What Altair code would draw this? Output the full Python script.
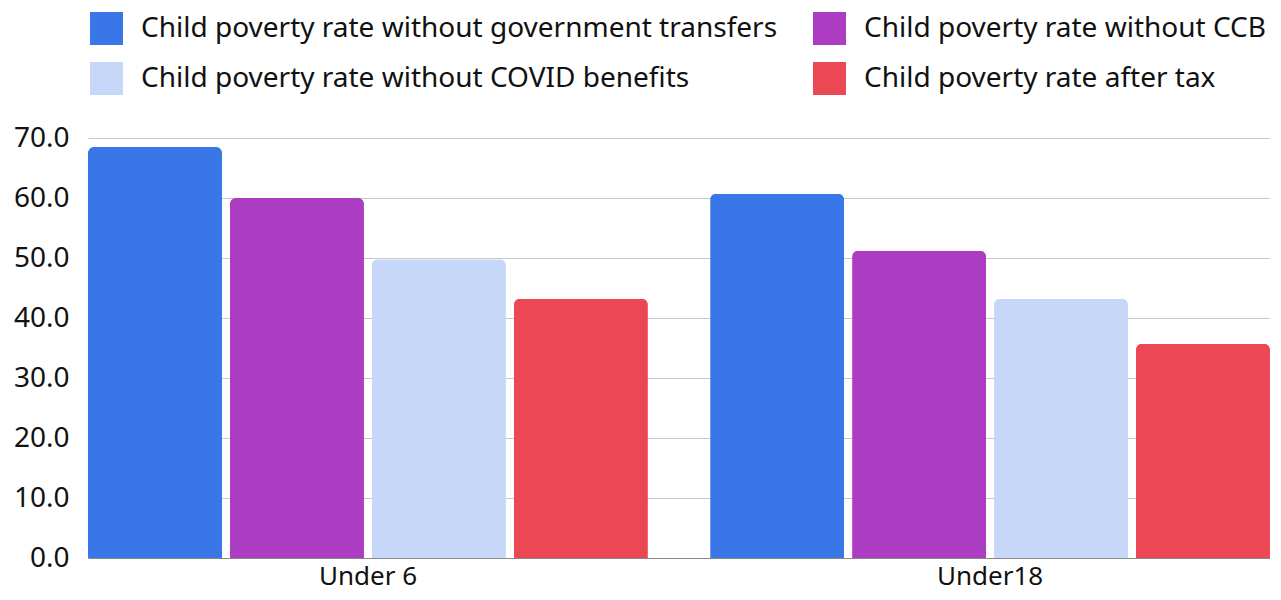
import altair as alt
import pandas as pd

groups = ["Under 6", "Under18"]
series = [
    "Child poverty rate without government transfers",
    "Child poverty rate without CCB",
    "Child poverty rate without COVID benefits",
    "Child poverty rate after tax",
]
colors = ["#3977E9", "#AC3CC1", "#C6D7F8", "#EC4755"]
under6 = [68.5, 60.0, 49.8, 43.2]
under18 = [60.7, 51.2, 43.2, 35.7]

# legend is laid out column by column: order entries so rows read as in the reference
legend_order = [series[0], series[2], series[1], series[3]]
legend_colors = [colors[0], colors[2], colors[1], colors[3]]

rows = []
for g, vals in zip(groups, [under6, under18]):
    for s, v in zip(series, vals):
        rows.append({"group": g, "series": s, "value": v})
df = pd.DataFrame(rows)

FONT = "Noto Sans"

chart = (
    alt.Chart(df)
    .mark_bar(cornerRadiusTopLeft=6, cornerRadiusTopRight=6)
    .encode(
        x=alt.X(
            "group:N",
            sort=groups,
            title=None,
            scale=alt.Scale(paddingInner=0.1, paddingOuter=0),
            axis=alt.Axis(
                labelAngle=0,
                labelFontSize=26,
                labelFont=FONT,
                labelColor="#111",
                labelPadding=5,
                ticks=False,
                domainColor="#888",
                domainWidth=1,
                grid=False,
            ),
        ),
        xOffset=alt.XOffset(
            "series:N",
            sort=series,
            scale=alt.Scale(paddingInner=0.056, paddingOuter=0),
        ),
        y=alt.Y(
            "value:Q",
            title=None,
            scale=alt.Scale(domain=[0, 70], nice=False),
            axis=alt.Axis(
                values=[0, 10, 20, 30, 40, 50, 60, 70],
                format=".1f",
                labelFontSize=28,
                labelFont=FONT,
                labelColor="#111",
                labelPadding=19,
                ticks=False,
                domain=False,
                gridColor="#c8c8c8",
                gridWidth=1,
            ),
        ),
        color=alt.Color(
            "series:N",
            scale=alt.Scale(domain=legend_order, range=legend_colors),
            legend=alt.Legend(
                title=None,
                orient="none",
                legendX=2,
                legendY=-126,
                columns=2,
                columnPadding=35,
                rowPadding=17,
                symbolType="square",
                symbolSize=1089,
                symbolStrokeWidth=0,
                labelFontSize=28,
                labelFont=FONT,
                labelColor="#111",
                labelOffset=18,
                labelLimit=1000,
            ),
        ),
    )
    .properties(
        width=1182,
        height=420,
        autosize=alt.AutoSizeParams(type="none"),
        padding={"left": 80, "top": 130, "right": 0, "bottom": 34},
    )
    .configure_view(stroke=None)
)

chart.save("out.html", embed_options={"renderer": "svg", "actions": False})
